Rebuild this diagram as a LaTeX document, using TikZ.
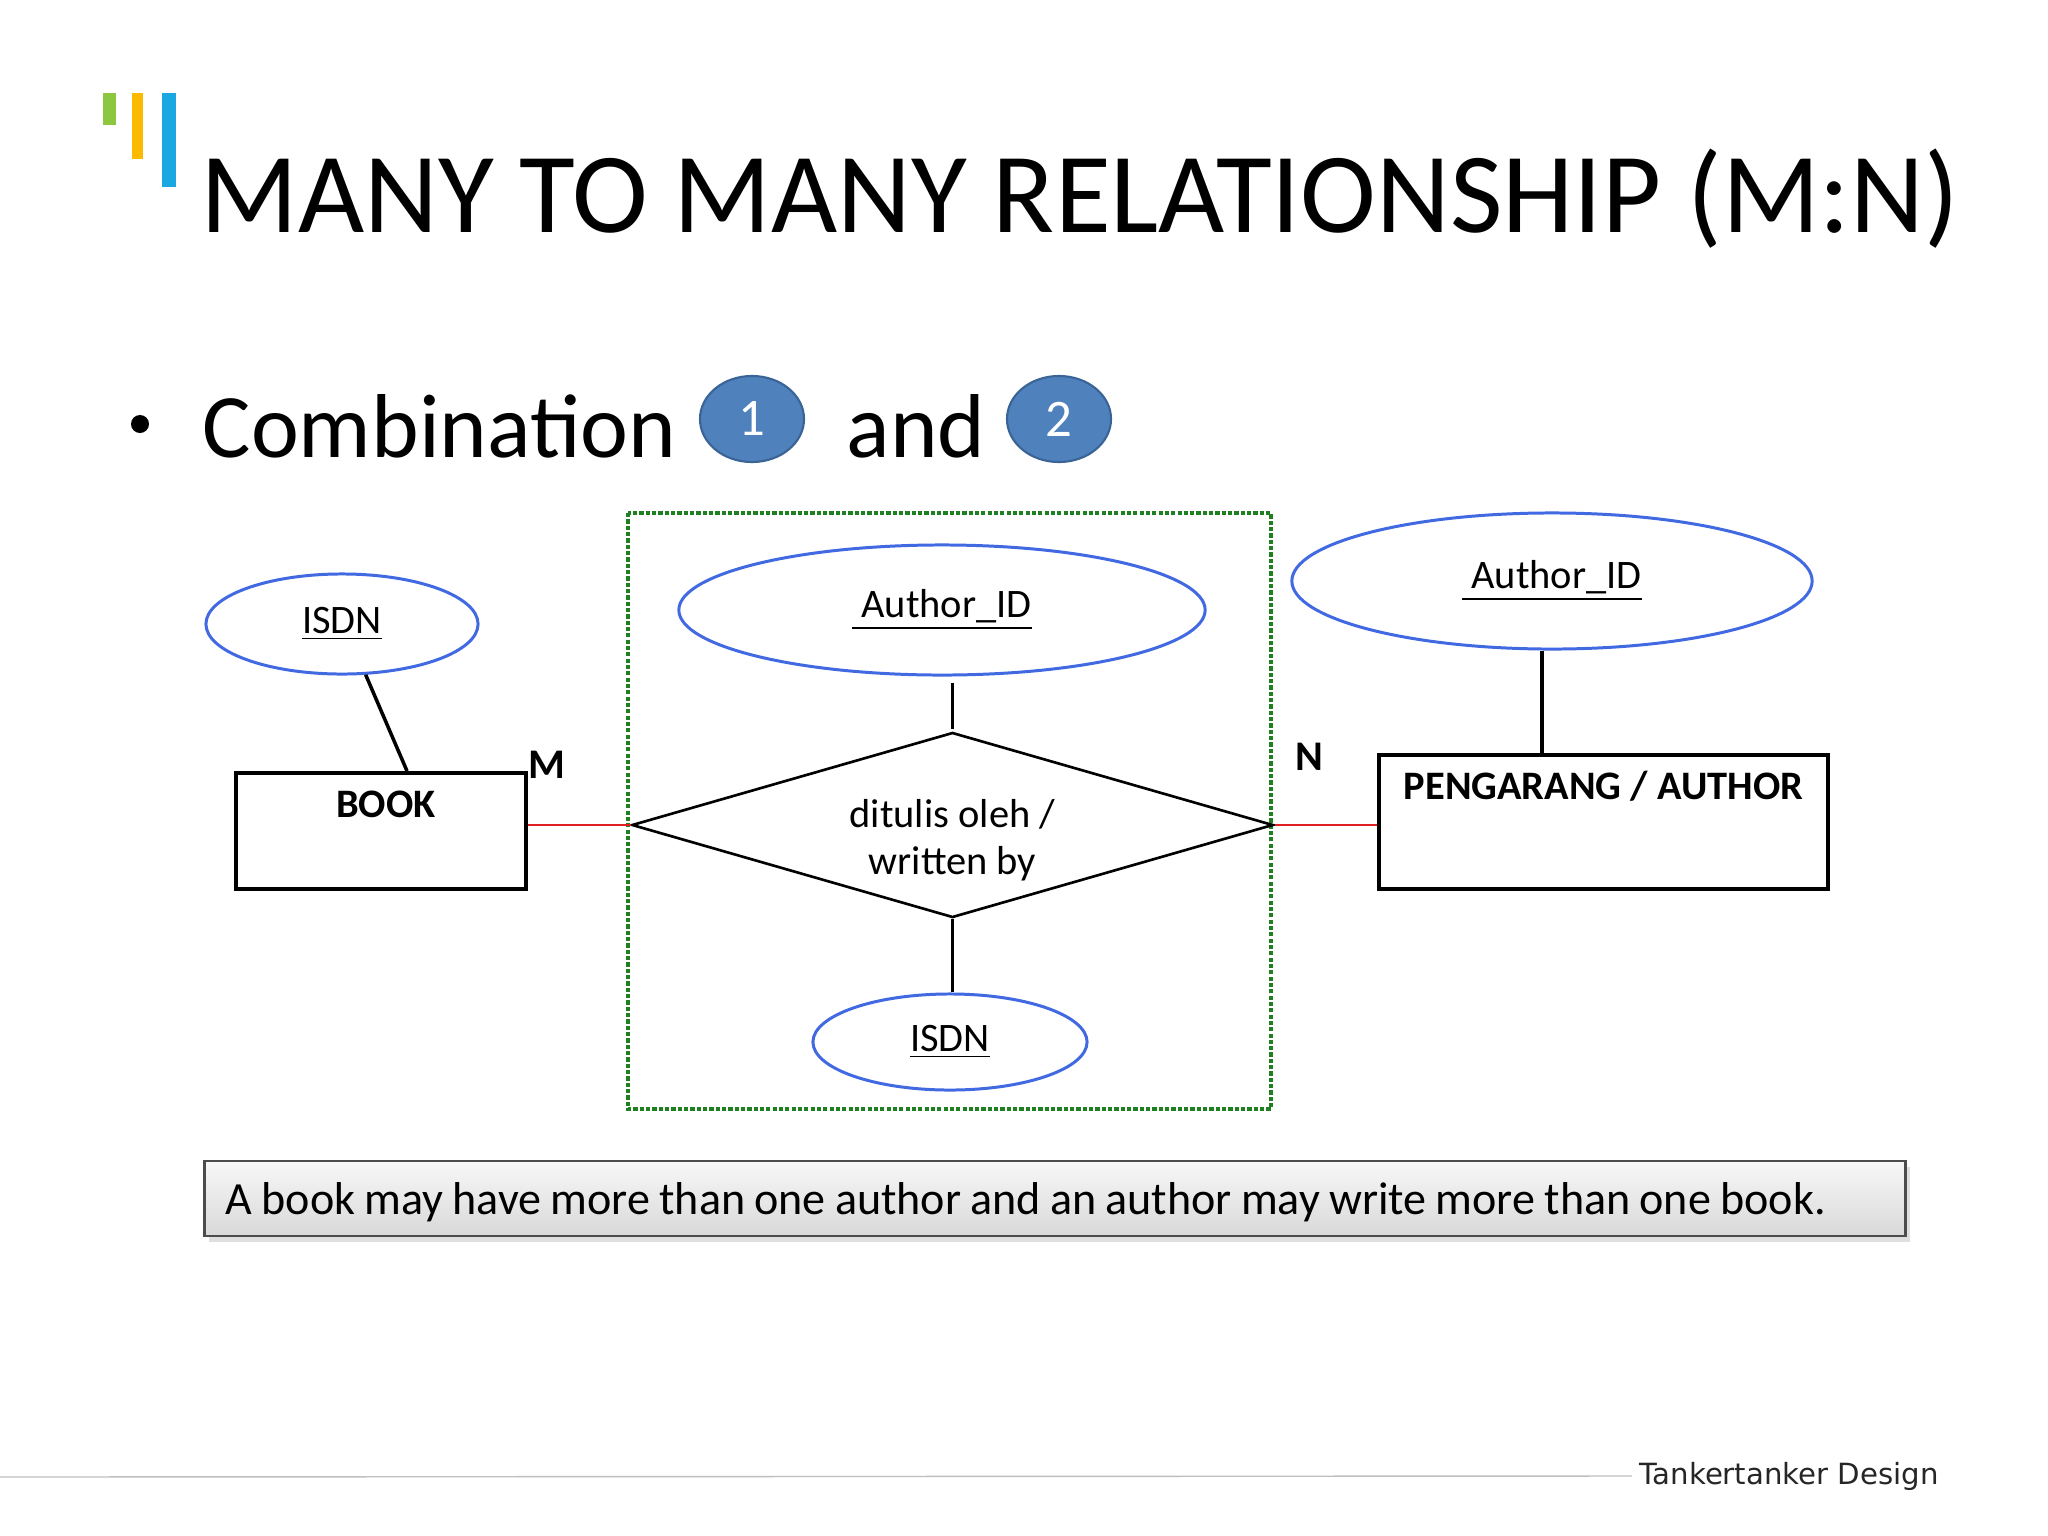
\documentclass[tikz,border=0pt]{standalone}
\usepackage{fontspec}
\setmainfont{Carlito}
\newfontfamily\footfont{DejaVu Sans}
\usetikzlibrary{calc,positioning,shapes.geometric,shadows}
\definecolor{ellblue}{HTML}{4169E1}
\definecolor{dotgreen}{HTML}{1E8020}
\definecolor{relred}{HTML}{E02020}
\definecolor{numblue}{HTML}{4F81BD}
\definecolor{numedge}{HTML}{3A6496}
\definecolor{barlime}{HTML}{8DC63F}
\definecolor{baramber}{HTML}{FBBA00}
\definecolor{barblue}{HTML}{1BA7E2}

\begin{document}
\begin{tikzpicture}[x=0.01cm,y=-0.01cm,
    attr/.style={ellipse,draw=ellblue,line width=0.85pt,inner sep=0pt,font=\fontsize{11.5}{13}\selectfont},
    entity/.style={draw,line width=1.1pt,inner sep=0pt},
    enttext/.style={inner sep=0pt,font=\fontsize{11.5}{13}\selectfont\bfseries},
    numdisc/.style={ellipse,fill=numblue,draw=numedge,line width=0.6pt,text=white,inner sep=0pt,
      minimum width=1.04cm,minimum height=0.86cm,font=\fontsize{15}{17}\selectfont},
    link/.style={line width=1pt},
    card/.style={relred,line width=0.8pt}]
  \fill[white] (0,0) rectangle (2048,1536);
  \useasboundingbox (0,0) rectangle (2048,1536);
  % logo bars
  \fill[barlime] (103,93) rectangle (116,125);
  \fill[baramber] (132,93) rectangle (143,159);
  \fill[barblue] (162,93) rectangle (176,187);
  \node[anchor=base west,inner sep=0pt,font=\fontsize{32.5}{36}\selectfont] (title) at (200,232) {MANY TO MANY RELATIONSHIP (M:N)};
  % bullet line
  \node[circle,fill,minimum size=0.18cm,inner sep=0pt] (dot) at (140,424) {};
  \node[anchor=base west,inner sep=0pt,font=\fontsize{25.8}{30}\selectfont] (comb) at (202,457) {Combination};
  \node[numdisc] (one) at (752,419) {1};
  \node[anchor=base west,inner sep=0pt,font=\fontsize{25.8}{30}\selectfont] (and) at (846,457) {and};
  \node[numdisc] (two) at (1059,419) {2};
  % grouped part
  \draw[dotgreen,line width=1.1pt,dash pattern=on 1.2pt off 0.6pt] (628,513) rectangle (1271,1109);
  % entities
  \node[entity,minimum width=2.90cm,minimum height=1.16cm] (book) at (381,831) {};
  \node[enttext] (booklbl) at ([xshift=0.05cm,yshift=-0.33cm]book.north) {BOOK};
  \node[entity,minimum width=4.49cm,minimum height=1.34cm] (author) at (1603.5,822) {};
  \node[enttext] (authorlbl) at ([yshift=-0.33cm]author.north) {PENGARANG / AUTHOR};
  \node[diamond,draw,line width=0.75pt,minimum width=6.41cm,minimum height=1.85cm,aspect=3.46,
    inner sep=0pt] (writes) at (952.5,825) {};
  \node[align=center,inner sep=0pt,font=\fontsize{11.5}{13.5}\selectfont] (writeslbl) at ([yshift=-0.15cm]writes.center) {ditulis oleh /\\written by};
  % attributes
  \node[attr,minimum width=2.72cm,minimum height=1.0cm] (isdnA) at (342,624) {\underline{ISDN}};
  \node[attr,minimum width=5.26cm,minimum height=1.30cm] (authA) at (942,610) {\underline{\ Author\_ID}};
  \node[attr,minimum width=2.74cm,minimum height=0.96cm] (isdnB) at (950,1042) {\underline{ISDN}};
  \node[attr,minimum width=5.20cm,minimum height=1.36cm] (authB) at (1552,581) {\underline{\ Author\_ID}};
  \draw[link] (isdnA.-65) -- ([xshift=0.26cm]book.north);
  \draw[link] ([yshift=0.02cm]writes.north) -- ([yshift=-0.06cm]writes.north |- authA.south);
  \draw[link] (writes.south) -- (writes.south |- isdnB.north);
  \draw[link] ([xshift=-0.1cm]authB.south) -- ([xshift=-0.1cm]authB.south |- author.north);
  \draw[card] (book.east |- writes.west) -- (writes.west);
  \draw[card] (writes.east) -- (writes.east -| author.west);
  \node[enttext,font=\fontsize{12}{14}\selectfont\bfseries] (mlbl) at (547,765) {M};
  \node[enttext,font=\fontsize{12}{14}\selectfont\bfseries] (nlbl) at (1309,757) {N};
  % note
  \node[draw=black!70,line width=0.8pt,top color=gray!6,bottom color=gray!30,
    drop shadow={opacity=0.25,shadow xshift=0.04cm,shadow yshift=-0.06cm},
    minimum width=17cm,minimum height=0.75cm,inner sep=0pt] (note) at (1055,1198.5) {};
  \node[anchor=west,inner sep=0pt,font=\fontsize{13.1}{15}\selectfont] (notetext) at ([xshift=0.22cm,yshift=-0.04cm]note.west)
    {\spaceskip=0.2em\relax A book may have more than one author and an author may write more than one book.};
  % footer
  \node[anchor=west,inner sep=2pt,font=\footfont\fontsize{8.3}{10}\selectfont,text=black!85] (footer) at (1632,1476) {Tankertanker Design};
  \draw[gray!50,line width=0.4pt] (0,1477) -- (footer.west);
\end{tikzpicture}
\end{document}
